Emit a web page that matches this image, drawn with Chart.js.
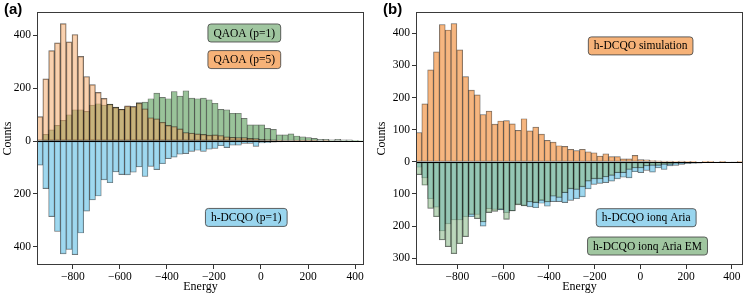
<!DOCTYPE html>
<html>
<head>
<meta charset="utf-8">
<script src="https://cdn.jsdelivr.net/npm/chart.js@4.4.1/dist/chart.umd.min.js"></script>
<style>
  html, body { margin: 0; padding: 0; background: #fff; }
  #wrap { position: relative; width: 747px; height: 297px; }
  .panel { position: absolute; top: 0; height: 297px; }
  #panelA { left: 0; width: 374px; }
  #panelB { left: 374px; width: 373px; }
</style>
</head>
<body>
<div id="wrap">
  <div class="panel" id="panelA"><canvas id="chartA"></canvas></div>
  <div class="panel" id="panelB"><canvas id="chartB"></canvas></div>
</div>
<script>
// histogram bins (56 per panel) and axis ranges
const N_BINS = 56;
const energyRangeA = [-952, 438];
const energyRangeB = [-981, 449];
const countRangeA = [-469, 488];
const countRangeB = [-321, 466];

const energyTicks = [-800, -600, -400, -200, 0, 200, 400];
const countTicksA = [-400, -200, 0, 200, 400];
const countTicksB = [-300, -200, -100, 0, 100, 200, 300, 400];

// panel (a)
const qaoaP1 = [2, 25, 42, 59, 78, 99, 118, 118, 112, 136, 141, 136, 140, 128, 120, 130, 130, 145, 147, 160,
  181, 165, 160, 187, 170, 190, 162, 160, 162, 156, 143, 120, 118, 105, 105, 86, 61, 61, 61, 48,
  44, 23, 23, 27, 19, 16, 13, 10, 6, 6, 4, 6, 4, 4, 3, 2];
const qaoaP5 = [92, 235, 342, 371, 444, 375, 403, 320, 244, 213, 184, 161, 139, 127, 120, 133, 130, 143, 122, 88,
  84, 71, 59, 55, 46, 32, 30, 27, 25, 22, 23, 21, 16, 14, 13, 13, 10, 9, 6, 5,
  4, 3, 2, 2, 1, 1, 1, 1, 0, 1, 0, 0, 0, 0, 0, 0];
// h-DCQO (p=1) simulation, shown under zero in (a) and above zero in (b)
const hdcqoSim = [91, 180, 286, 342, 427, 410, 430, 348, 265, 223, 208, 147, 158, 117, 127, 128, 118, 98, 134, 96,
  108, 86, 67, 61, 50, 48, 39, 35, 39, 31, 28, 18, 25, 16, 16, 9, 9, 20, 7, 6,
  4, 3, 2, 2, 1, 2, 1, 1, 0, 1, 1, 0, 1, 0, 0, 1];

// panel (b), hardware runs
const ariaRaw = [17, 50, 115, 141, 215, 193, 181, 181, 171, 171, 164, 200, 146, 148, 150, 158, 153, 132, 136, 140,
  143, 129, 138, 124, 124, 127, 120, 115, 109, 84, 70, 67, 65, 60, 53, 48, 50, 31, 34, 27,
  32, 19, 24, 13, 11, 8, 6, 5, 4, 3, 3, 2, 1, 1, 1, 1];
const ariaEM = [40, 73, 145, 171, 243, 264, 286, 255, 233, 164, 177, 187, 158, 154, 148, 179, 153, 134, 137, 125,
  127, 120, 125, 107, 111, 96, 84, 86, 78, 60, 53, 53, 47, 42, 34, 34, 24, 19, 19, 13,
  11, 11, 8, 8, 5, 4, 3, 3, 2, 2, 1, 1, 1, 0, 1, 0];

const SERIF = '"Liberation Serif", "Times New Roman", serif';
Chart.defaults.font.family = SERIF;
Chart.defaults.font.size = 11.5;
Chart.defaults.color = '#000';

function binCenters(range) {
  const w = (range[1] - range[0]) / N_BINS;
  return Array.from({length: N_BINS}, (_, i) => range[0] + (i + 0.5) * w);
}

function toPoints(centers, values, sign) {
  return values.map((v, i) => ({x: centers[i], y: sign * v}));
}

function fmtEnergy(v) {
  return v < 0 ? '\u2212' + Math.abs(v) : String(v);
}

function barSet(label, points, color, order) {
  return {
    label: label,
    data: points,
    backgroundColor: color,
    borderColor: 'rgba(0,0,0,0.6)',
    borderWidth: 0.7,
    borderSkipped: false,
    barPercentage: 1,
    categoryPercentage: 1,
    grouped: false,
    order: order
  };
}

// frame, zero line, boxed labels and panel letter
const decorPlugin = {
  id: 'decor',
  afterDatasetsDraw(chart, args, opts) {
    const ctx = chart.ctx;
    const a = chart.chartArea;
    const y0 = Math.round(chart.scales.y.getPixelForValue(0)) + 0.5;
    ctx.save();
    ctx.strokeStyle = '#000';
    ctx.lineWidth = 1;
    ctx.beginPath();
    ctx.moveTo(a.left, y0);
    ctx.lineTo(a.right, y0);
    ctx.stroke();

    ctx.strokeStyle = '#3a3a3a';
    ctx.strokeRect(Math.round(a.left) + 0.5, Math.round(a.top) + 0.5,
      Math.round(a.right - a.left) - 1, Math.round(a.bottom - a.top) - 1);

    ctx.font = '11.5px ' + SERIF;
    ctx.textAlign = 'center';
    ctx.textBaseline = 'middle';
    for (const lab of opts.labels) {
      const cx = a.left + lab.fx * (a.right - a.left);
      const cy = a.top + lab.fy * (a.bottom - a.top);
      const w = ctx.measureText(lab.text).width + 11;
      const h = 18;
      ctx.beginPath();
      ctx.roundRect(cx - w / 2, cy - h / 2, w, h, 3);
      ctx.fillStyle = lab.fill;
      ctx.fill();
      ctx.strokeStyle = 'rgba(70,70,70,0.85)';
      ctx.stroke();
      ctx.fillStyle = '#000';
      ctx.fillText(lab.text, cx, cy + 0.5);
    }

    ctx.font = 'bold 15px "Liberation Sans", Arial, sans-serif';
    ctx.textAlign = 'left';
    ctx.fillText(opts.panel, opts.panelX, 10);
    ctx.restore();
  }
};

function makeChart(canvasId, datasets, xRange, yRange, yTicks, yWidth, rightPad, decor) {
  return new Chart(document.getElementById(canvasId), {
    type: 'bar',
    data: {datasets: datasets},
    options: {
      responsive: true,
      maintainAspectRatio: false,
      animation: false,
      layout: {padding: {left: 0, right: rightPad, top: 12, bottom: 0}},
      plugins: {legend: {display: false}, tooltip: {enabled: false}, decor: decor},
      scales: {
        x: {
          type: 'linear',
          min: xRange[0],
          max: xRange[1],
          offset: false,
          afterFit: s => { s.height = 32; },
          afterBuildTicks: s => { s.ticks = energyTicks.map(v => ({value: v})); },
          ticks: {callback: v => fmtEnergy(v), maxRotation: 0, autoSkip: false, padding: 1},
          grid: {offset: false, drawOnChartArea: false, tickLength: 4, tickColor: '#333'},
          border: {display: false},
          title: {display: true, text: 'Energy', font: {size: 12}, padding: {top: 0, bottom: 3}}
        },
        y: {
          min: yRange[0],
          max: yRange[1],
          afterFit: s => { s.width = yWidth; },
          afterBuildTicks: s => { s.ticks = yTicks.map(v => ({value: v})); },
          ticks: {callback: v => String(Math.abs(v)), padding: 2},
          grid: {drawOnChartArea: false, tickLength: 4, tickColor: '#333'},
          border: {display: false},
          title: {display: true, text: 'Counts', font: {size: 12}, padding: {top: 1, bottom: 0}}
        }
      }
    },
    plugins: [decorPlugin]
  });
}

const centersA = binCenters(energyRangeA);
const centersB = binCenters(energyRangeB);

makeChart('chartA', [
  barSet('QAOA (p=5)', toPoints(centersA, qaoaP5, 1), 'rgba(244,164,96,0.5)', 0),
  barSet('QAOA (p=1)', toPoints(centersA, qaoaP1, 1), 'rgba(143,188,143,0.9)', 1),
  barSet('h-DCQO (p=1)', toPoints(centersA, hdcqoSim, -1), 'rgba(135,206,235,0.8)', 2)
], energyRangeA, countRangeA, countTicksA, 37, 10, {
  panel: '(a)', panelX: 4,
  labels: [
    {text: 'QAOA (p=1)', fx: 0.634, fy: 0.083, fill: 'rgba(143,188,143,0.85)'},
    {text: 'QAOA (p=5)', fx: 0.634, fy: 0.188, fill: 'rgba(244,164,96,0.85)'},
    {text: 'h-DCQO (p=1)', fx: 0.640, fy: 0.812, fill: 'rgba(135,206,235,0.85)'}
  ]
});

makeChart('chartB', [
  barSet('h-DCQO simulation', toPoints(centersB, hdcqoSim, 1), 'rgba(244,164,96,0.8)', 2),
  barSet('h-DCQO ionq Aria EM', toPoints(centersB, ariaEM, -1), 'rgba(143,188,143,0.6)', 0),
  barSet('h-DCQO ionq Aria', toPoints(centersB, ariaRaw, -1), 'rgba(135,206,235,0.8)', 1)
], energyRangeB, countRangeB, countTicksB, 42, 4, {
  panel: '(b)', panelX: 9,
  labels: [
    {text: 'h-DCQO simulation', fx: 0.687, fy: 0.134, fill: 'rgba(244,164,96,0.85)'},
    {text: 'h-DCQO ionq Aria', fx: 0.704, fy: 0.813, fill: 'rgba(135,206,235,0.85)'},
    {text: 'h-DCQO ionq Aria EM', fx: 0.708, fy: 0.925, fill: 'rgba(143,188,143,0.85)'}
  ]
});
</script>
</body>
</html>
